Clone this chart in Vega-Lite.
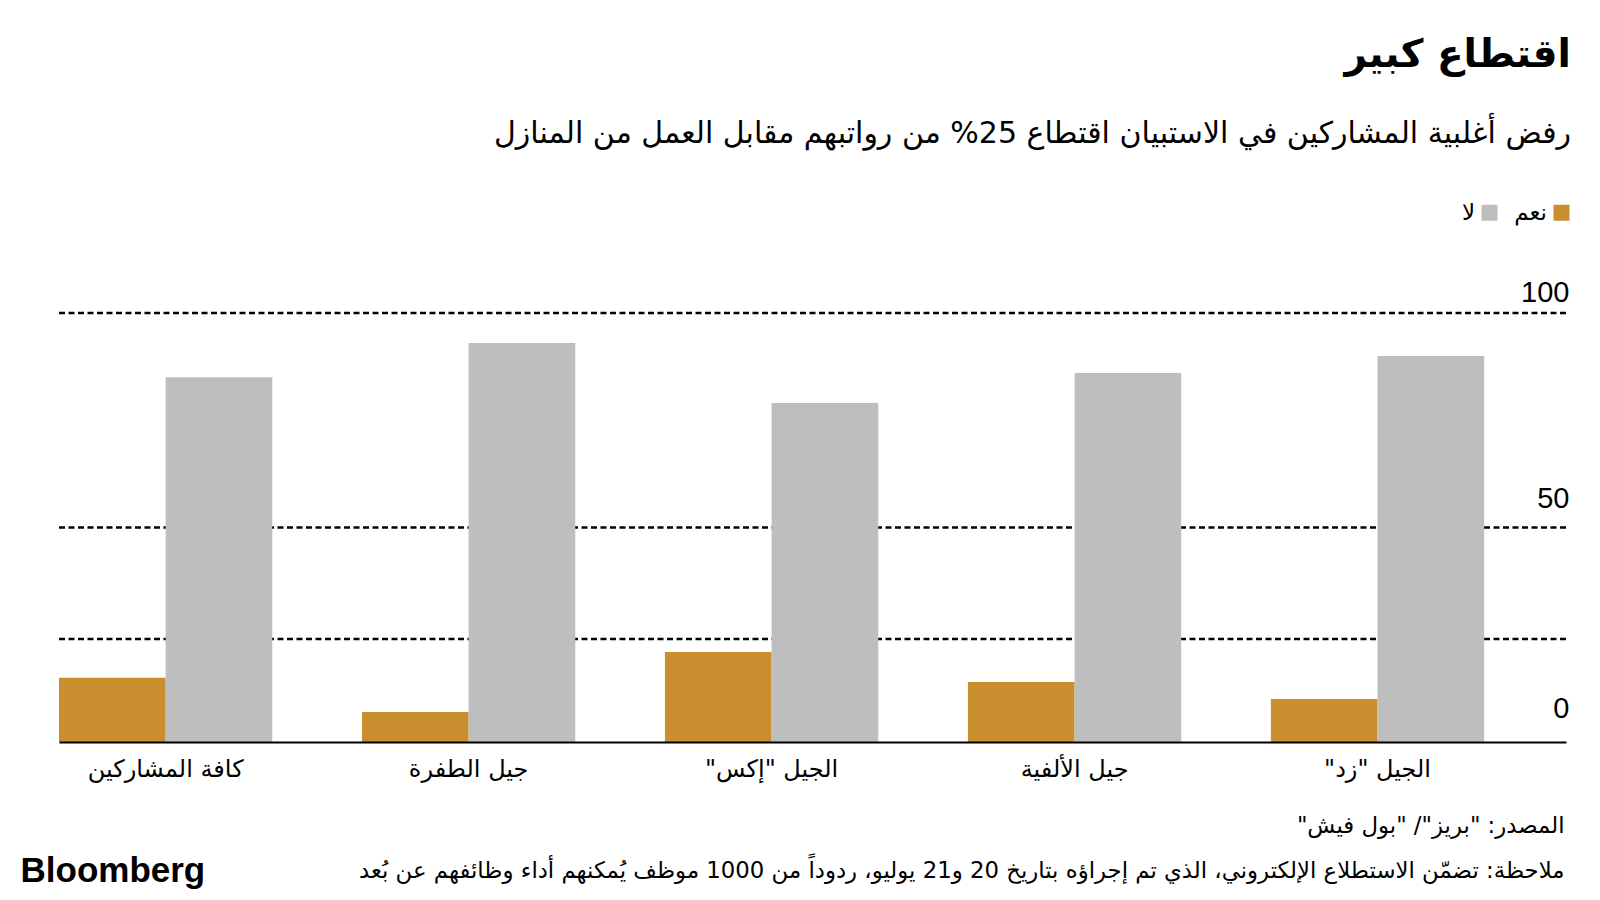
{
  "$schema": "https://vega.github.io/schema/vega-lite/v6.json",
  "width": 1507,
  "height": 429,
  "autosize": {"type": "none"},
  "padding": {"left": 59, "top": 313, "right": 34, "bottom": 158},
  "background": "white",
  "config": {"view": {"stroke": null}},
  "title": {
    "text": "\u202bاقتطاع كبير\u202c",
    "subtitle": "\u202bرفض أغلبية المشاركين في الاستبيان اقتطاع 25% من رواتبهم مقابل العمل من المنازل\u202c",
    "anchor": "end",
    "frame": "group",
    "font": "DejaVu Sans",
    "fontSize": 39,
    "fontWeight": "bold",
    "color": "#000000",
    "subtitleFont": "DejaVu Sans",
    "subtitleFontSize": 30,
    "subtitleColor": "#000000",
    "subtitlePadding": 44,
    "offset": 52,
    "dx": 5
  },
  "datasets": {
    "survey": [
      {"group": "كافة المشاركين", "answer": "نعم", "value": 15},
      {"group": "كافة المشاركين", "answer": "لا", "value": 85},
      {"group": "جيل الطفرة", "answer": "نعم", "value": 7},
      {"group": "جيل الطفرة", "answer": "لا", "value": 93},
      {"group": "الجيل \"إكس\"", "answer": "نعم", "value": 21},
      {"group": "الجيل \"إكس\"", "answer": "لا", "value": 79},
      {"group": "جيل الألفية", "answer": "نعم", "value": 14},
      {"group": "جيل الألفية", "answer": "لا", "value": 86},
      {"group": "الجيل \"زد\"", "answer": "نعم", "value": 10},
      {"group": "الجيل \"زد\"", "answer": "لا", "value": 90}
    ],
    "gridlines": [
      {"value": 24},
      {"value": 50},
      {"value": 100}
    ]
  },
  "layer": [
    {
      "data": {"name": "gridlines"},
      "mark": {"type": "rule", "stroke": "#000000", "strokeWidth": 2.5, "strokeDash": [6, 3.5]},
      "encoding": {
        "y": {"field": "value", "type": "quantitative", "scale": {"domain": [0, 100], "nice": false}}
      }
    },
    {
      "data": {"name": "survey"},
      "mark": {"type": "bar"},
      "encoding": {
        "x": {
          "field": "group",
          "type": "nominal",
          "sort": ["كافة المشاركين", "جيل الطفرة", "الجيل \"إكس\"", "جيل الألفية", "الجيل \"زد\""],
          "scale": {"paddingInner": 0.296, "paddingOuter": 0.135, "align": 0},
          "axis": {
            "labelExpr": "'\u202b' + datum.label + '\u202c'",
            "labelAngle": 0,
            "labelFont": "DejaVu Sans",
            "labelFontSize": 24,
            "labelColor": "#000000",
            "labelPadding": 15,
            "ticks": false,
            "grid": false,
            "domain": true,
            "domainColor": "#000000",
            "domainWidth": 2,
            "zindex": 1,
            "title": ["\u202bالمصدر: \"بريز\"/ \"بول فيش\"\u202c", "\u202bملاحظة: تضمّن الاستطلاع الإلكتروني، الذي تم إجراؤه بتاريخ 20 و21 يوليو، ردوداً من 1000 موظف يُمكنهم أداء وظائفهم عن بُعد\u202c"],
            "titleX": 1505,
            "titleY": 90,
            "titleAlign": "right",
            "titleAnchor": "end",
            "titleBaseline": "alphabetic",
            "titleFont": "DejaVu Sans",
            "titleFontSize": 22.8,
            "titleFontWeight": "normal",
            "titleColor": "#000000",
            "titleLineHeight": 45
          }
        },
        "xOffset": {
          "field": "answer",
          "type": "nominal",
          "sort": ["نعم", "لا"],
          "scale": {"paddingInner": 0, "paddingOuter": 0}
        },
        "y": {
          "field": "value",
          "type": "quantitative",
          "scale": {"domain": [0, 100], "nice": false},
          "axis": {
            "orient": "right",
            "values": [0, 50, 100],
            "labelAlign": "right",
            "labelBaseline": "middle",
            "labelPadding": 3,
            "labelFont": "Liberation Sans",
            "labelFontSize": 29,
            "labelColor": "#000000",
            "labelOffset": {"condition": [{"test": "datum.value == 100", "value": -21}, {"test": "datum.value == 50", "value": -29}], "value": -34},
            "ticks": false,
            "domain": false,
            "grid": false,
            "title": "Bloomberg",
            "titleAngle": 0,
            "titleX": -1546,
            "titleY": 568,
            "titleAlign": "left",
            "titleBaseline": "alphabetic",
            "titleFont": "Liberation Sans",
            "titleFontSize": 35,
            "titleFontWeight": "bold",
            "titleColor": "#000000"
          }
        },
        "color": {
          "field": "answer",
          "type": "nominal",
          "scale": {"domain": ["لا", "نعم"], "range": ["#BEBEBE", "#C98F2E"]},
          "legend": {
            "orient": "none",
            "legendX": 1419,
            "legendY": -112,
            "direction": "horizontal",
            "title": null,
            "symbolType": "square",
            "symbolSize": 256,
            "symbolStrokeWidth": 0,
            "symbolOpacity": 1,
            "labelFont": "DejaVu Sans",
            "labelFontSize": 23,
            "labelColor": "#000000",
            "labelAlign": "right",
            "labelOffset": -26,
            "columnPadding": 16
          }
        }
      }
    }
  ]
}
